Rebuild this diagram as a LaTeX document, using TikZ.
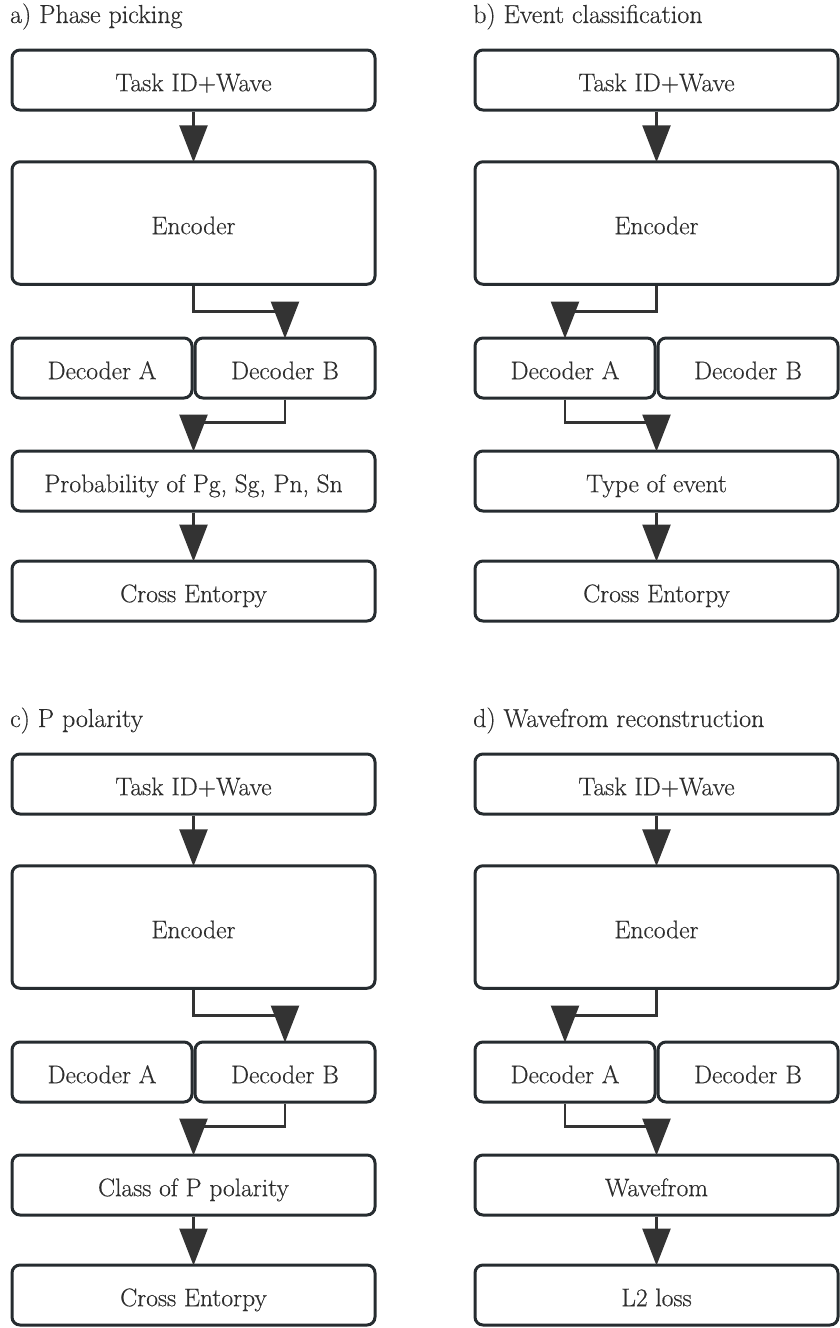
\documentclass[tikz,border=0pt]{standalone}
\usepackage{fontspec}
\newfontfamily\lmr{Latin Modern Roman}[FakeBold=0.4]
\usetikzlibrary{arrows.meta}
\definecolor{boxc}{RGB}{38,44,48}
\definecolor{connc}{RGB}{51,51,51}
\definecolor{txtc}{RGB}{45,45,45}
\tikzset{
  box/.style={draw=boxc, line width=3pt, rounded corners=8pt, fill=white,
    text=txtc, font=\lmr\fontsize{25.5}{30}\selectfont, text height=22.4pt, text depth=0pt,
    inner sep=0pt, minimum height=60pt},
  wide/.style={box, minimum width=363pt},
  half/.style={box, minimum width=180pt},
  ttl/.style={text=txtc, font=\lmr\fontsize{26}{30}\selectfont, inner sep=0pt},
  conn/.style={draw=connc, line width=2.6pt,
    -{Triangle[width=28pt,length=37pt,fill=connc]}, shorten >=-2pt}
}
\newcommand\drawpanel[7]{%
  \begin{scope}[shift={(#2,#3)}]
    \node[ttl, anchor=base west] (#1-title) at (10,23) {#4};
    \node[wide] (#1-task) at (193.5,80) {Task ID+Wave};
    \node[wide, minimum height=122.5pt] (#1-enc) at (193.5,223) {Encoder};
    \node[half] (#1-decA) at (102,368) {Decoder A};
    \node[half] (#1-decB) at (285,368) {Decoder B};
    \node[wide] (#1-mid) at (193.5,481) {#5};
    \node[wide] (#1-last) at (193.5,591) {#6};
    \draw[conn] (#1-task) -- (#1-enc);
    \draw[conn] (#1-enc.south) -- ++(0,26) -| (#1-#7.north);
    \draw[conn] (#1-#7.south) -- ++(0,23) -| (#1-mid.north);
    \draw[conn] (#1-mid) -- (#1-last);
  \end{scope}}
\begin{document}
\begin{tikzpicture}[x=1pt,y=-1pt]
  \useasboundingbox (0,0) rectangle (840,1328);
  \drawpanel{a}{0}{0}{a) Phase picking}{Probability of Pg, Sg, Pn, Sn}{Cross Entorpy}{decB}
  \drawpanel{b}{463}{0}{b) Event classification}{Type of event}{Cross Entorpy}{decA}
  \drawpanel{c}{0}{704}{c) P polarity}{Class of P polarity}{Cross Entorpy}{decB}
  \drawpanel{d}{463}{704}{d) Wavefrom reconstruction}{Wavefrom}{L2 loss}{decA}
\end{tikzpicture}
\end{document}
